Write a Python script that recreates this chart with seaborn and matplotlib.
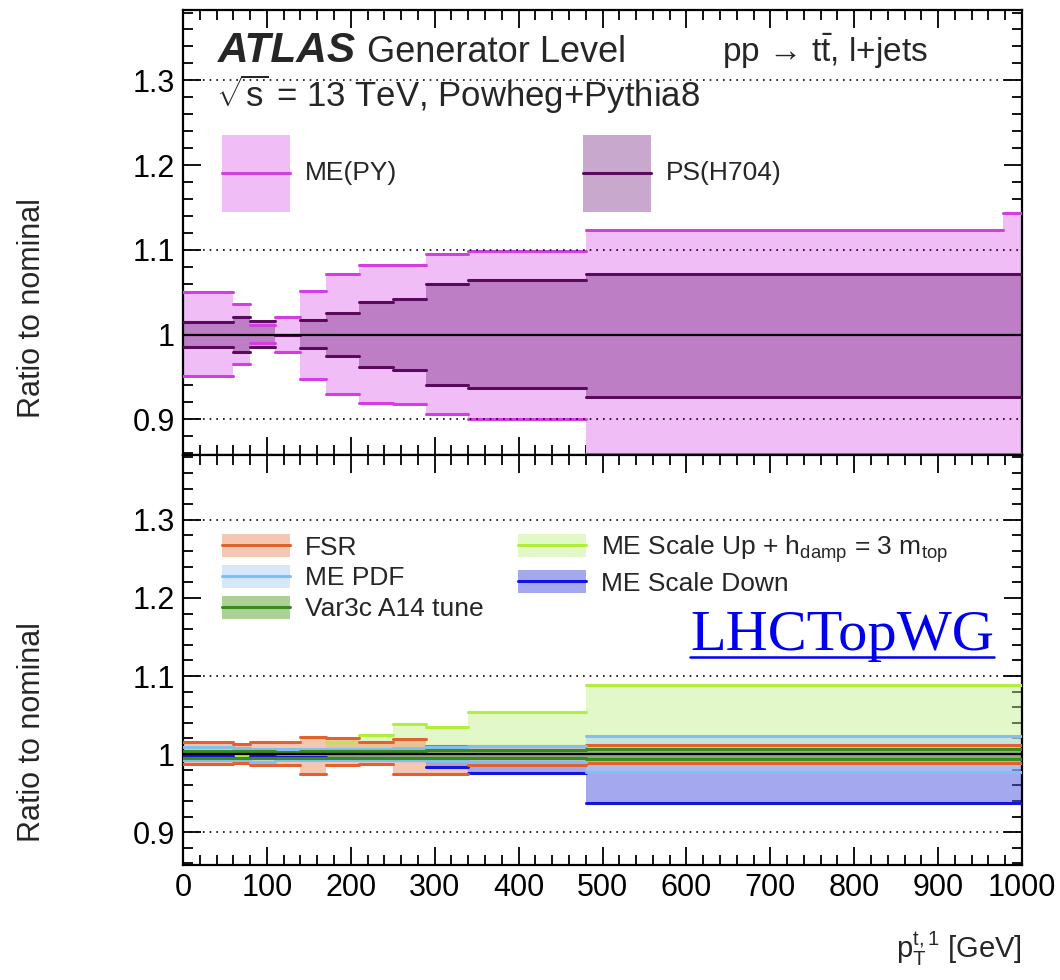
import matplotlib
matplotlib.use("Agg")
import matplotlib.pyplot as plt
import seaborn as sns
import numpy as np
import pandas as pd
from matplotlib.patches import Patch
from matplotlib.lines import Line2D
from matplotlib.legend_handler import HandlerLine2D
from matplotlib.ticker import MultipleLocator, FixedLocator, FuncFormatter

# ---------------- data ----------------
bin_edges = [0, 60, 80, 110, 140, 170, 210, 250, 290, 340, 480, 977, 1000]

# top panel (symmetrised variations)
me_py_up = [1.050, 1.036, 1.011, 1.021, 1.052, 1.071, 1.082, 1.082, 1.095, 1.099, 1.123, 1.144]
me_py_dn = [0.951, 0.965, 0.990, 0.979, 0.948, 0.930, 0.919, 0.918, 0.906, 0.901, 0.859, 0.859]
ps_up = [1.015, 1.021, 1.016, 1.000, 1.017, 1.026, 1.039, 1.042, 1.060, 1.064, 1.071, 1.071]
ps_dn = [0.986, 0.979, 0.985, 1.000, 0.984, 0.975, 0.962, 0.958, 0.941, 0.937, 0.927, 0.927]

# bottom panel
fsr_up = [1.015, 1.013, 1.015, 1.016, 1.022, 1.020, 1.015, 1.019, 1.010, 1.011, 1.012, 1.012]
fsr_dn = [0.987, 0.989, 0.986, 0.986, 0.975, 0.986, 0.987, 0.975, 0.975, 0.986, 0.988, 0.988]
pdf_up = [1.009, 1.008, 1.006, 1.006, 1.006, 1.007, 1.007, 1.008, 1.009, 1.010, 1.023, 1.023]
pdf_dn = [0.992, 0.992, 0.990, 0.992, 0.993, 0.993, 0.993, 0.992, 0.991, 0.990, 0.977, 0.977]
var3c_up = [1.004, 1.004, 1.004, 1.003, 1.004, 1.004, 1.004, 1.004, 1.005, 1.005, 1.006, 1.006]
var3c_dn = [0.995, 0.995, 0.995, 0.995, 0.995, 0.995, 0.995, 0.995, 0.995, 0.995, 0.994, 0.994]
scale_up = [1.003, 0.999, 1.002, 1.004, 1.006, 1.016, 1.024, 1.039, 1.035, 1.054, 1.089, 1.089]
scale_dn = [0.998, 1.003, 0.997, 0.996, 0.996, 0.995, 0.995, 0.992, 0.984, 0.976, 0.937, 0.937]

top_labels = ["ME(PY)", "PS(H704)"]
bottom_labels = ["FSR", "ME PDF", "Var3c A14 tune",
                 r"ME Scale Up + h$_{\mathrm{damp}}$ = 3 m$_{\mathrm{top}}$", "ME Scale Down"]
y_ticks = [0.9, 1.0, 1.1, 1.2, 1.3]
x_ticks = [0, 100, 200, 300, 400, 500, 600, 700, 800, 900, 1000]

# ---------------- style ----------------
sns.set_theme(style="ticks")
FONT = "Liberation Sans"
plt.rcParams["font.family"] = [FONT, "DejaVu Sans"]
plt.rcParams["mathtext.fontset"] = "custom"
plt.rcParams["mathtext.rm"] = FONT
plt.rcParams["mathtext.it"] = FONT + ":italic"
plt.rcParams["mathtext.bf"] = FONT + ":bold"
plt.rcParams["mathtext.sf"] = FONT

W, H = 1060, 980
fig = plt.figure(figsize=(W / 100, H / 100), dpi=100)

def fx(px):
    return px / W

def fy(py):
    return 1 - py / H

ax_l, ax_r = 183, 1022
ax_top = fig.add_axes([fx(ax_l), fy(455), fx(ax_r - ax_l), (455 - 10) / H])
ax_bot = fig.add_axes([fx(ax_l), fy(865), fx(ax_r - ax_l), (865 - 455) / H])

def ext(v):
    return list(v) + [v[-1]]

def band(ax, lo, hi, color, alpha, z):
    ax.fill_between(bin_edges, ext(lo), ext(hi), step="post", color=color,
                    alpha=alpha, linewidth=0, zorder=z)

def segs(ax, vals, color, lw, z):
    # one horizontal segment per bin (ROOT "hist" style, no vertical connectors)
    rows = []
    for i, v in enumerate(vals):
        rows.append({"x": bin_edges[i], "y": v, "bin": i})
        rows.append({"x": bin_edges[i + 1], "y": v, "bin": i})
    df = pd.DataFrame(rows)
    sns.lineplot(data=df, x="x", y="y", units="bin", estimator=None, sort=False,
                 color=color, linewidth=lw, ax=ax, zorder=z, legend=False)

# colours
me_fill, me_line = "#f0bdf6", "#d23fe0"
ps_fill, ps_line, ps_alpha = "#6a1475", "#5a0a5c", 0.37
fsr_fill, fsr_line = "#eb9169", "#e2622e"
pdf_fill, pdf_line = "#afd1f5", "#80c0f0"
v3_fill, v3_line = "#59a52d", "#3a8a1e"
su_fill, su_line = "#c3f187", "#b2ee3c"
sd_fill, sd_line = "#4b55e1", "#1414dc"

LW = 2.2

# ---------- top panel ----------
band(ax_top, me_py_dn, me_py_up, me_fill, 1.0, 1)
band(ax_top, ps_dn, ps_up, ps_fill, ps_alpha, 2)
segs(ax_top, me_py_up, me_line, LW, 3)
segs(ax_top, me_py_dn, me_line, LW, 3)
segs(ax_top, ps_up, ps_line, LW, 4)
segs(ax_top, ps_dn, ps_line, LW, 4)

# ---------- bottom panel ----------
band(ax_bot, [1.0] * len(scale_up), scale_up, su_fill, 0.45, 1)
band(ax_bot, scale_dn, [1.0] * len(scale_dn), sd_fill, 0.5, 1)
band(ax_bot, fsr_dn, fsr_up, fsr_fill, 0.5, 2)
band(ax_bot, pdf_dn, pdf_up, pdf_fill, 0.5, 2)
band(ax_bot, var3c_dn, var3c_up, v3_fill, 0.5, 2)
segs(ax_bot, scale_up, su_line, LW, 3)
segs(ax_bot, scale_dn, sd_line, LW, 3)
segs(ax_bot, fsr_up, fsr_line, LW, 3)
segs(ax_bot, fsr_dn, fsr_line, LW, 3)
segs(ax_bot, pdf_up, pdf_line, LW, 3)
segs(ax_bot, pdf_dn, pdf_line, LW, 3)
segs(ax_bot, var3c_up, v3_line, LW, 3)
segs(ax_bot, var3c_dn, v3_line, LW, 3)

for ax in (ax_top, ax_bot):
    ax.axhline(1.0, color="black", lw=1.6, zorder=5)
    for yv in (0.9, 1.1, 1.3):
        ax.axhline(yv, color="black", lw=1.2, ls=(0, (1, 3)), zorder=6)
    ax.set_xlim(0, 1000)
    ax.set_ylim(0.858, 1.383)
    ax.set_xlabel("")
    ax.set_ylabel("")
    ax.xaxis.set_major_locator(FixedLocator(x_ticks))
    ax.xaxis.set_minor_locator(MultipleLocator(20))
    ax.yaxis.set_major_locator(FixedLocator(y_ticks))
    ax.yaxis.set_minor_locator(MultipleLocator(0.02))
    ax.yaxis.set_major_formatter(FuncFormatter(lambda v, p: f"{v:g}"))
    ax.tick_params(which="both", direction="in", top=True, right=True, width=1.3, colors="black")
    ax.tick_params(which="major", length=13, labelsize=22, pad=6)
    ax.tick_params(which="minor", length=7)
    for s in ax.spines.values():
        s.set_linewidth(1.6)
        s.set_color("black")
    ax.set_facecolor("white")

ax_top.tick_params(labelbottom=False)

# ---------- texts ----------
fig.text(fx(218), fy(62), "ATLAS", fontsize=30.5, fontweight="bold", style="italic", va="baseline")
fig.text(fx(367), fy(62), "Generator Level", fontsize=26, va="baseline")
fig.text(fx(722), fy(62), r"pp → t$\bar{\mathrm{t}}$, l+jets", fontsize=24, va="baseline")
fig.text(fx(216), fy(107), r"$\sqrt{\mathrm{s}}$ = 13 TeV, Powheg+Pythia8", fontsize=25, va="baseline")

fig.text(fx(32), fy(308), "Ratio to nominal", rotation=90, fontsize=22, ha="center", va="center")
fig.text(fx(32), fy(732), "Ratio to nominal", rotation=90, fontsize=22, ha="center", va="center")
fig.text(fx(1022), fy(958), r"p$_{\mathrm{T}}^{\mathrm{t,1}}$ [GeV]", fontsize=21, ha="right", va="baseline")

# ---------- legends ----------
LFS = 19
F = LFS * 100 / 72

def hh(px):
    # legend handle box height (px) -> handleheight parameter
    return (px - 0.245 * F) / (0.65 * F)

class CenteredLine(HandlerLine2D):
    def create_artists(self, legend, orig_handle, xdescent, ydescent, width, height,
                       fontsize, trans):
        arts = super().create_artists(legend, orig_handle, xdescent, ydescent, width,
                                      height, fontsize, trans)
        yc = height / 2 - ydescent
        for a in arts:
            if isinstance(a, Line2D):
                a.set_ydata([yc] * len(a.get_xdata()))
        return arts

hmap = {Line2D: CenteredLine()}

top_handles = [
    (Patch(facecolor=me_fill, edgecolor="none"), Line2D([], [], color=me_line, lw=LW)),
    (Patch(facecolor=ps_fill, alpha=ps_alpha, edgecolor="none"), Line2D([], [], color=ps_line, lw=LW)),
]
leg1 = ax_top.legend(top_handles, top_labels, ncol=2, loc="upper left",
                     bbox_to_anchor=((222 - 183) / 839, 1 - (135 - 10) / 445),
                     frameon=False, fontsize=LFS, borderpad=0, borderaxespad=0,
                     handlelength=68 / F, handleheight=hh(77),
                     handletextpad=15 / F, columnspacing=186 / F, handler_map=hmap)

bot_handles = [
    (Patch(facecolor=fsr_fill, alpha=0.5, edgecolor="none"), Line2D([], [], color=fsr_line, lw=LW)),
    (Patch(facecolor=pdf_fill, alpha=0.5, edgecolor="none"), Line2D([], [], color=pdf_line, lw=LW)),
    (Patch(facecolor=v3_fill, alpha=0.5, edgecolor="none"), Line2D([], [], color=v3_line, lw=LW)),
    (Patch(facecolor=su_fill, alpha=0.45, edgecolor="none"), Line2D([], [], color=su_line, lw=LW)),
    (Patch(facecolor=sd_fill, alpha=0.5, edgecolor="none"), Line2D([], [], color=sd_line, lw=LW)),
]
leg2 = ax_bot.legend(bot_handles, bottom_labels, ncol=2, loc="upper left",
                     bbox_to_anchor=((222 - 183) / 839, 1 - (533 - 455) / 410),
                     frameon=False, fontsize=LFS, borderpad=0, borderaxespad=0,
                     handlelength=68 / F, handleheight=hh(23),
                     handletextpad=15 / F, columnspacing=34 / F,
                     labelspacing=0.2, handler_map=hmap)

# LHCTopWG watermark (underlined link-style)
wm = fig.text(fx(690), fy(650), "LHCTopWG", fontsize=42, family="Liberation Serif",
              color="#0000ee", va="baseline")
fig.canvas.draw()
bb = wm.get_window_extent()
yline = fy(657)
fig.add_artist(Line2D([bb.x0 / W, bb.x1 / W], [yline, yline], color="#0000ee", lw=1.8,
                      transform=fig.transFigure))

fig.savefig("out.png", dpi=100, facecolor="white")
